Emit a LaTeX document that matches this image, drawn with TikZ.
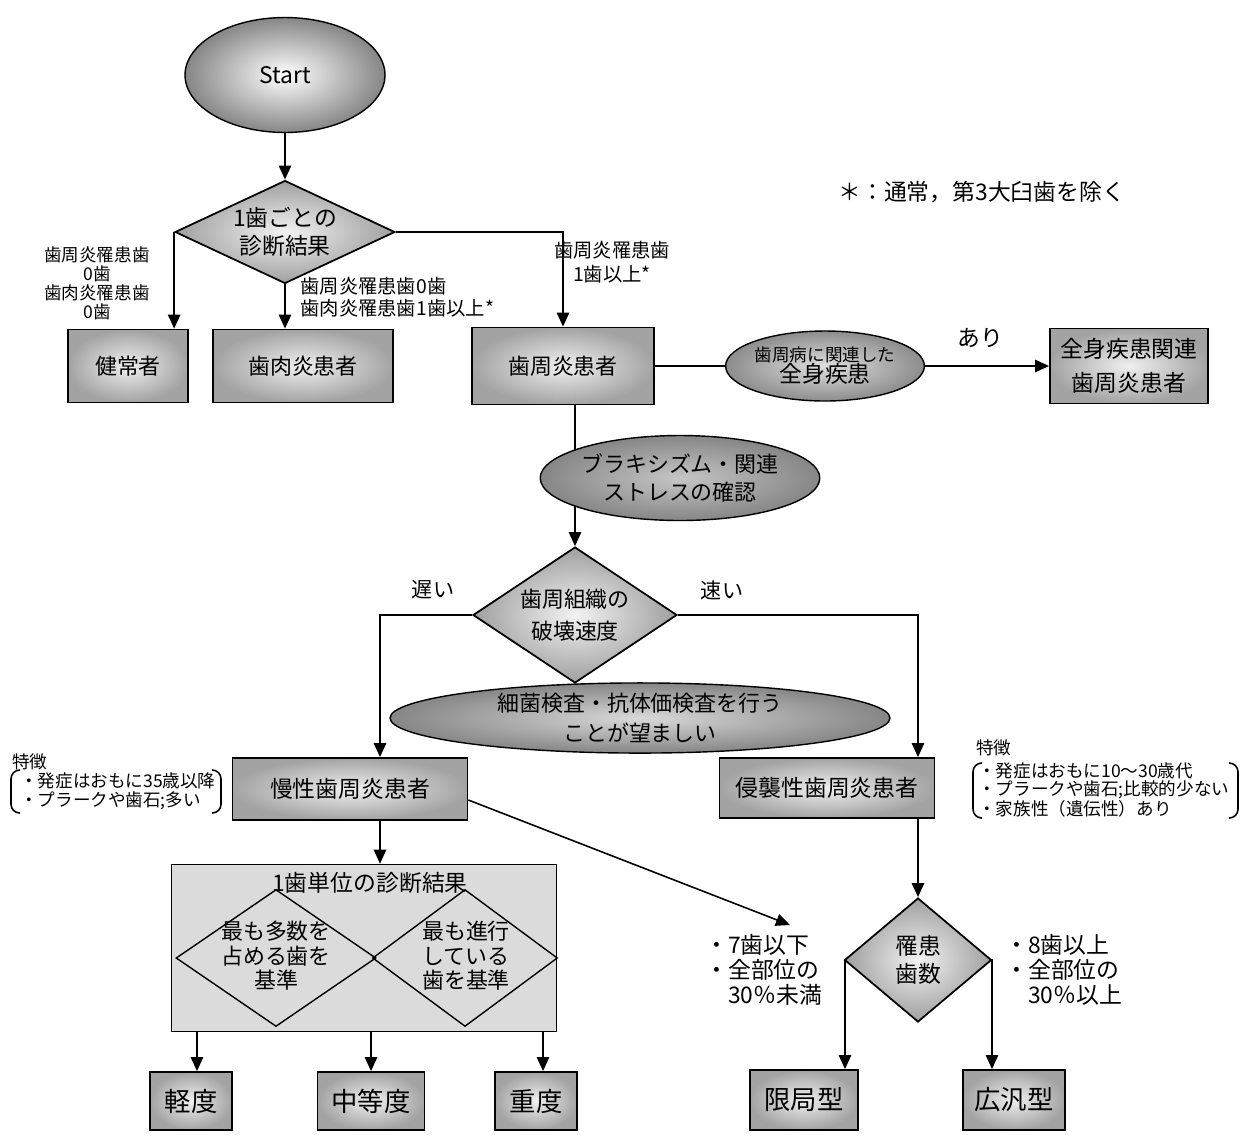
\documentclass[tikz,border=0pt]{standalone}
\usepackage{fontspec}
\setmainfont{Noto Sans CJK JP}
\usetikzlibrary{arrows.meta,shapes.geometric,calc}
\begin{document}
\begin{tikzpicture}[x=0.02cm,y=-0.02cm,
 arr/.style={-{Triangle[length=8pt,width=7pt]},line width=1.1pt},
 ln/.style={line width=1.1pt},
 box/.style={draw=black,line width=1pt,shade,inner color=gray!12,outer color=gray!72,inner sep=0pt,align=center,font=\fontsize{12.5}{15}\selectfont},
 bigbox/.style={box,font=\fontsize{15}{18}\selectfont},
 dia/.style={diamond,draw=black,line width=1pt,shade,inner color=gray!10,outer color=gray!75,inner sep=0pt},
 dtext/.style={align=center,inner sep=0pt,font=\fontsize{12.5}{16}\selectfont},
 ell/.style={ellipse,draw=black,line width=0.8pt,shade,inner color=gray!25,outer color=gray!90,inner sep=0pt,align=center},
 lbl/.style={inner sep=0pt,align=center},
 lbll/.style={inner sep=0pt,align=left},
 brk/.style={line width=0.9pt,rounded corners=5pt}
]
\useasboundingbox (0,0) rectangle (1248,1134);

% Start
\node[ellipse,draw=black,line width=0.8pt,shade,inner color=white,outer color=gray!95,minimum width=4cm,minimum height=2.3cm,inner sep=0pt,font=\fontsize{13}{15}\selectfont] (start) at (285,75) {Start};

% Diamond 1
\node[dia,minimum width=4.4cm,minimum height=2.06cm] (d1) at (285,232) {};
\node[dtext,font=\fontsize{13}{16}\selectfont] (d1t) at (d1.center) {1歯ごとの\\診断結果};

% boxes row 1
\node[box,minimum width=2.4cm,minimum height=1.46cm] (b1) at (128,366) {健常者};
\node[box,minimum width=3.6cm,minimum height=1.46cm] (b2) at (303,366) {歯肉炎患者};
\node[box,minimum width=3.64cm,minimum height=1.54cm] (b3) at (563,366) {歯周炎患者};
\node[box,minimum width=3.16cm,minimum height=1.5cm,font=\fontsize{13}{19}\selectfont] (b4) at (1129,366) {全身疾患関連\\歯周炎患者};

\draw[arr] (start.south) -- (d1.north);
\draw[arr] (d1.west) -- (d1.west |- b1.north);
\draw[arr] (d1.south) -- (d1.south |- b2.north);
\draw[arr] (d1.east) -| (b3.north);

\node[lbl,font=\fontsize{10}{10.8}\selectfont] (l1) at (97,283) {歯周炎罹患歯\\0歯\\歯肉炎罹患歯\\0歯};
\node[lbll,anchor=west,font=\fontsize{11}{12.6}\selectfont] (l2) at (300,297) {歯周炎罹患歯0歯\\歯肉炎罹患歯1歯以上*};
\node[lbl,font=\fontsize{11}{13.4}\selectfont] (l3) at (612,262) {歯周炎罹患歯\\1歯以上*};

% systemic disease ellipse
\node[ell,minimum width=3.4cm,minimum height=1.4cm] (e1) at (825,366) {{\fontsize{10}{12}\selectfont 歯周病に関連した}\\{\fontsize{13}{15}\selectfont 全身疾患}};
\draw[ln] (b3.east) -- (e1.west);
\draw[arr] (e1.east) -- (b4.west);
\node[lbl,font=\fontsize{13}{15}\selectfont] (ari) at (980,338) {あり};

% Diamond 2
\node[dia,minimum width=4.08cm,minimum height=2.72cm] (d2) at (575,615) {};
\node[dtext,font=\fontsize{12.5}{18}\selectfont] (d2t) at (d2.center) {歯周組織の\\破壊速度};
\draw[arr] (d2.north |- b3.south) -- (d2.north);

% bruxism ellipse (over the line)
\node[ell,minimum width=5cm,minimum height=1.7cm,inner color=gray!45,outer color=gray!95,font=\fontsize{12.5}{16}\selectfont] (e2) at (680,478) {ブラキシズム・関連\\ストレスの確認};

% chronic / aggressive
\node[box,minimum width=4.7cm,minimum height=1.24cm,font=\fontsize{13}{15}\selectfont] (b5) at (350,789) {慢性歯周炎患者};
\node[box,minimum width=4.3cm,minimum height=1.2cm,font=\fontsize{13}{15}\selectfont] (b6) at (827,788) {侵襲性歯周炎患者};

\draw[arr] (d2.west) -| ([xshift=0.6cm]b5.north);
\draw[arr] (d2.east) -| ([xshift=1.82cm]b6.north);
\node[lbl,font=\fontsize{12}{14}\selectfont] (slow) at (433,590) {遅い};
\node[lbl,font=\fontsize{12}{14}\selectfont] (fast) at (722,590) {速い};

\node[ell,minimum width=10cm,minimum height=1.2cm,inner color=gray!30,outer color=gray!95,font=\fontsize{12.5}{17}\selectfont] (e3) at (640,718) {細菌検査・抗体価検査を行う\\ことが望ましい};

% feature notes
\node[lbll,anchor=west,font=\fontsize{10}{12}\selectfont] (f1h) at (12,762) {特徴};
\node[lbll,anchor=west,font=\fontsize{10}{11}\selectfont] (f1) at (20,791) {・発症はおもに35歳以降\\・プラークや歯石;多い};
\draw[brk] (20,770) -- (11,770) -- (11,813) -- (20,813);
\draw[brk] (212,770) -- (221,770) -- (221,813) -- (212,813);

\node[lbll,anchor=west,font=\fontsize{10}{12}\selectfont] (f2h) at (976,748) {特徴};
\node[lbll,anchor=west,font=\fontsize{10}{10.3}\selectfont] (f2) at (978,790) {・発症はおもに10〜30歳代\\・プラークや歯石;比較的少ない\\・家族性（遺伝性）あり};
\draw[brk] (982,763) -- (973,763) -- (973,818) -- (982,818);
\draw[brk] (1229,763) -- (1238,763) -- (1238,818) -- (1229,818);

% big box
\node[draw=black,line width=0.9pt,fill=gray!28,minimum width=7.7cm,minimum height=3.34cm,inner sep=0pt] (big) at (364,948) {};
\node[diamond,draw=black,line width=0.8pt,minimum width=4.0cm,minimum height=2.74cm,inner sep=0pt] (dl) at (276,958) {};
\node[diamond,draw=black,line width=0.8pt,minimum width=3.7cm,minimum height=2.74cm,inner sep=0pt] (dr) at (465,958) {};
\node[lbl,font=\fontsize{13}{15}\selectfont] (bigt) at (370,883) {1歯単位の診断結果};
\node[dtext,font=\fontsize{12.5}{14}\selectfont] (dlt) at (276,956) {最も多数を\\占める歯を\\基準};
\node[dtext,font=\fontsize{12.5}{14}\selectfont] (drt) at (466,956) {最も進行\\している\\歯を基準};
\draw[arr] ([xshift=0.6cm]b5.south) -- ([xshift=0.6cm]b5.south |- big.north);

% severity boxes
\node[bigbox,minimum width=1.64cm,minimum height=1.16cm] (s1) at (191,1101) {軽度};
\node[bigbox,minimum width=2.14cm,minimum height=1.16cm] (s2) at (371,1101) {中等度};
\node[bigbox,minimum width=1.64cm,minimum height=1.16cm] (s3) at (536,1101) {重度};
\draw[arr] ([xshift=0.12cm]s1.north |- big.south) -- ([xshift=0.12cm]s1.north);
\draw[arr] (s2.north |- big.south) -- (s2.north);
\draw[arr] ([xshift=0.14cm]s3.north |- big.south) -- ([xshift=0.14cm]s3.north);

% diagonal arrow
\coordinate (c7) at (790,925);
\draw[arr,line width=0.9pt] ([yshift=-0.22cm]b5.east) -- (c7);
\node[lbll,anchor=west,font=\fontsize{13}{14.2}\selectfont] (n7) at (705,970) {・7歯以下\\・全部位の\\\hphantom{・}30％未満};

% Diamond 3
\node[dia,minimum width=2.94cm,minimum height=2.48cm] (d3) at (918,960) {};
\node[dtext,font=\fontsize{13}{16}\selectfont] (d3t) at (d3.center) {罹患\\歯数};
\draw[arr] ([xshift=1.82cm]b6.south) -- (d3.north);

\node[bigbox,minimum width=2.16cm,minimum height=1.2cm] (t1) at (804,1100) {限局型};
\node[bigbox,minimum width=2.04cm,minimum height=1.2cm] (t2) at (1014,1100) {広汎型};
\draw[arr] (d3.west) -| ([xshift=0.82cm]t1.north);
\draw[arr] (d3.east) -| ([xshift=-0.44cm]t2.north);
\node[lbll,anchor=west,font=\fontsize{13}{14.2}\selectfont] (n8) at (1005,970) {・8歯以上\\・全部位の\\\hphantom{・}30％以上};

% footnote
\node[lbll,anchor=west,font=\fontsize{13}{15}\selectfont] (note) at (838,192) {＊：通常，第3大臼歯を除く};
\end{tikzpicture}
\end{document}
